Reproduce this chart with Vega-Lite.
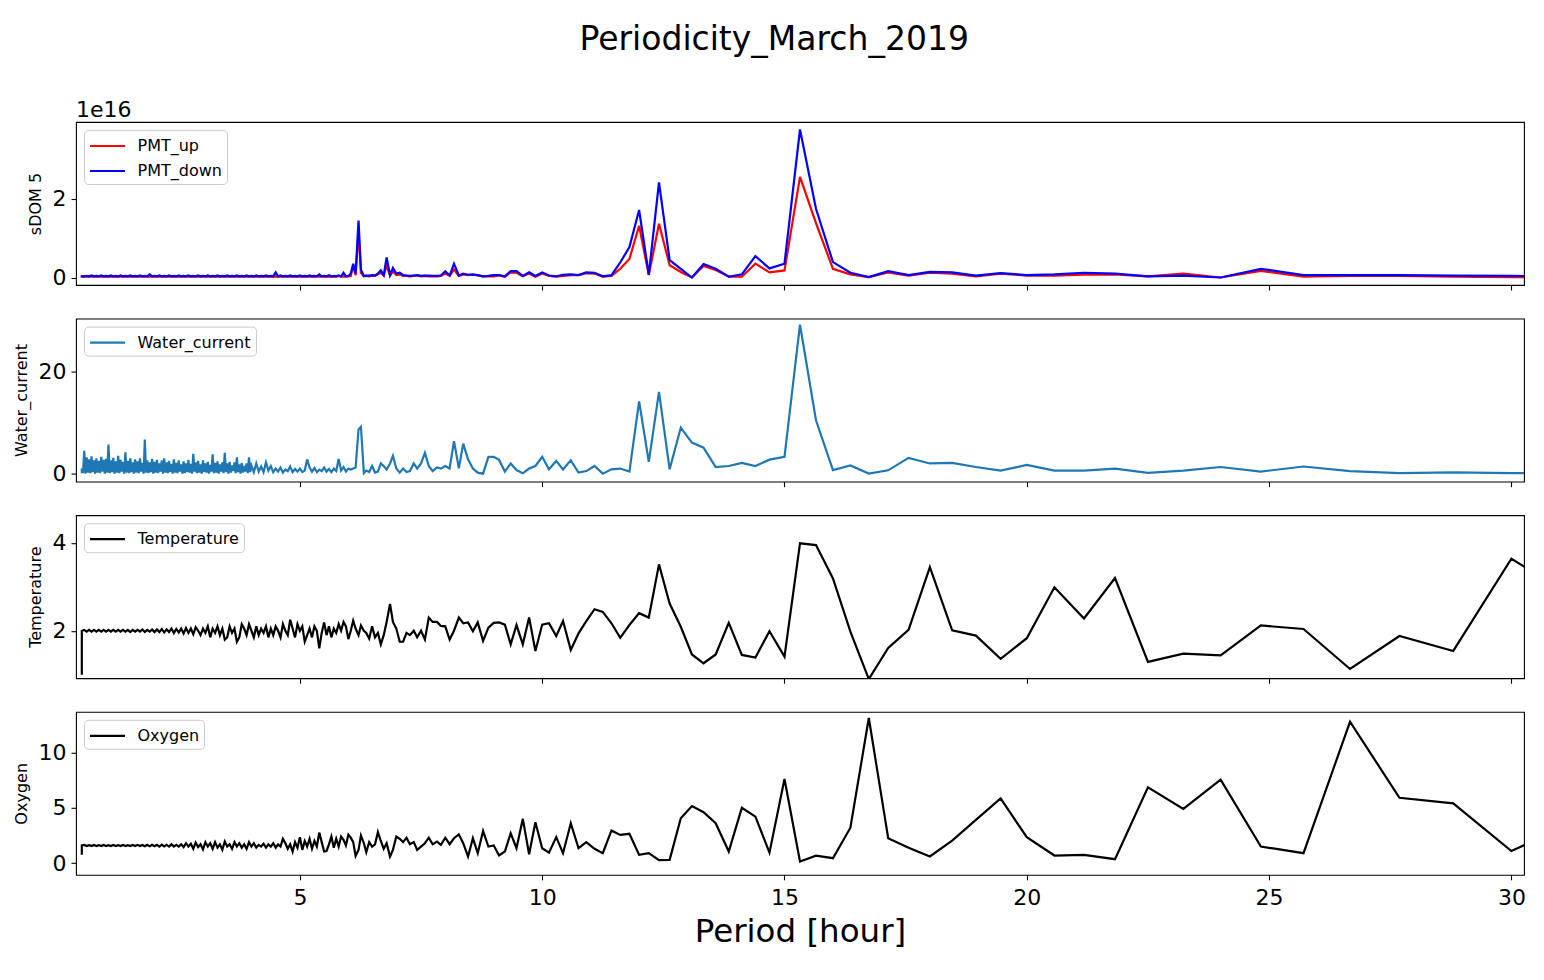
{
  "$schema": "https://vega.github.io/schema/vega-lite/v6.json",
  "padding": {"left": 12, "top": 24, "right": 19, "bottom": 5},
  "background": "white",
  "title": {"text": "Periodicity_March_2019", "fontSize": 33, "fontWeight": "normal", "anchor": "middle", "frame": "bounds", "offset": 41, "color": "black", "dx": 5},
  "config": {
    "font": "DejaVu Sans",
    "view": {"stroke": "black", "strokeWidth": 1.1},
    "axis": {"grid": false, "domain": false, "tickColor": "black", "tickSize": 5, "tickWidth": 1.1, "labelFontSize": 22, "labelColor": "black", "labelPadding": 5, "titleFontSize": 16, "titleFontWeight": "normal", "titleColor": "black", "titlePadding": 9},
    "axisX": {"labelPadding": 8, "titleFontSize": 32.5, "titlePadding": 7},
    "legend": {"orient": "top-left", "offset": 8, "padding": 4.5, "strokeColor": "#cccccc", "fillColor": "rgba(255,255,255,0.8)", "cornerRadius": 4, "labelFontSize": 16, "labelColor": "black", "symbolType": "M-1,0L2.5,0", "symbolSize": 400, "symbolStrokeWidth": 2.2, "labelOffset": 26, "rowPadding": 5, "title": null},
    "title": {"fontWeight": "normal", "color": "black"}
  },
  "datasets": {
    "periodogram": [
      {"p": 31.30, "PMT_up": 0.00, "PMT_down": 0.03, "Water_current": 0.1, "Temperature": 2.76, "Oxygen": 3.7},
      {"p": 30.00, "PMT_up": 0.01, "PMT_down": 0.04, "Water_current": 0.1, "Temperature": 3.64, "Oxygen": 1.1},
      {"p": 28.80, "PMT_up": 0.02, "PMT_down": 0.05, "Water_current": 0.25, "Temperature": 1.54, "Oxygen": 5.4},
      {"p": 27.69, "PMT_up": 0.04, "PMT_down": 0.06, "Water_current": 0.1, "Temperature": 1.88, "Oxygen": 5.9},
      {"p": 26.67, "PMT_up": 0.04, "PMT_down": 0.06, "Water_current": 0.5, "Temperature": 1.13, "Oxygen": 12.76},
      {"p": 25.71, "PMT_up": 0.02, "PMT_down": 0.06, "Water_current": 1.4, "Temperature": 2.04, "Oxygen": 0.9},
      {"p": 24.83, "PMT_up": 0.17, "PMT_down": 0.22, "Water_current": 0.4, "Temperature": 2.12, "Oxygen": 1.5},
      {"p": 24.00, "PMT_up": 0.00, "PMT_down": 0.00, "Water_current": 1.3, "Temperature": 1.44, "Oxygen": 7.53},
      {"p": 23.23, "PMT_up": 0.10, "PMT_down": 0.05, "Water_current": 0.6, "Temperature": 1.48, "Oxygen": 4.9},
      {"p": 22.50, "PMT_up": 0.03, "PMT_down": 0.03, "Water_current": 0.15, "Temperature": 1.29, "Oxygen": 6.85},
      {"p": 21.82, "PMT_up": 0.08, "PMT_down": 0.10, "Water_current": 1.0, "Temperature": 3.2, "Oxygen": 0.36},
      {"p": 21.18, "PMT_up": 0.07, "PMT_down": 0.12, "Water_current": 0.6, "Temperature": 2.28, "Oxygen": 0.75},
      {"p": 20.57, "PMT_up": 0.05, "PMT_down": 0.08, "Water_current": 0.6, "Temperature": 2.99, "Oxygen": 0.69},
      {"p": 20.00, "PMT_up": 0.05, "PMT_down": 0.06, "Water_current": 1.7, "Temperature": 1.83, "Oxygen": 2.34},
      {"p": 19.46, "PMT_up": 0.10, "PMT_down": 0.11, "Water_current": 0.6, "Temperature": 1.36, "Oxygen": 5.85},
      {"p": 18.95, "PMT_up": 0.03, "PMT_down": 0.05, "Water_current": 1.3, "Temperature": 1.89, "Oxygen": 3.9},
      {"p": 18.46, "PMT_up": 0.10, "PMT_down": 0.13, "Water_current": 2.1, "Temperature": 2.01, "Oxygen": 2.04},
      {"p": 18.00, "PMT_up": 0.12, "PMT_down": 0.14, "Water_current": 2.0, "Temperature": 3.45, "Oxygen": 0.6},
      {"p": 17.56, "PMT_up": 0.05, "PMT_down": 0.06, "Water_current": 3.1, "Temperature": 2.02, "Oxygen": 1.4},
      {"p": 17.14, "PMT_up": 0.13, "PMT_down": 0.16, "Water_current": 0.65, "Temperature": 1.61, "Oxygen": 2.25},
      {"p": 16.74, "PMT_up": 0.01, "PMT_down": 0.01, "Water_current": 0.0, "Temperature": 0.9, "Oxygen": 13.1},
      {"p": 16.36, "PMT_up": 0.08, "PMT_down": 0.12, "Water_current": 1.6, "Temperature": 1.98, "Oxygen": 3.2},
      {"p": 16.00, "PMT_up": 0.22, "PMT_down": 0.39, "Water_current": 0.7, "Temperature": 3.19, "Oxygen": 0.45},
      {"p": 15.65, "PMT_up": 1.38, "PMT_down": 1.74, "Water_current": 10.5, "Temperature": 3.95, "Oxygen": 0.68},
      {"p": 15.32, "PMT_up": 2.55, "PMT_down": 3.75, "Water_current": 29.3, "Temperature": 3.99, "Oxygen": 0.15},
      {"p": 15.00, "PMT_up": 0.18, "PMT_down": 0.35, "Water_current": 3.3, "Temperature": 1.41, "Oxygen": 7.6},
      {"p": 14.69, "PMT_up": 0.13, "PMT_down": 0.23, "Water_current": 2.75, "Temperature": 1.99, "Oxygen": 0.95},
      {"p": 14.40, "PMT_up": 0.35, "PMT_down": 0.54, "Water_current": 1.5, "Temperature": 1.39, "Oxygen": 4.2},
      {"p": 14.12, "PMT_up": 0.02, "PMT_down": 0.08, "Water_current": 2.1, "Temperature": 1.45, "Oxygen": 5.0},
      {"p": 13.85, "PMT_up": 0.02, "PMT_down": 0.02, "Water_current": 1.5, "Temperature": 2.18, "Oxygen": 1.05},
      {"p": 13.58, "PMT_up": 0.19, "PMT_down": 0.22, "Water_current": 1.3, "Temperature": 1.46, "Oxygen": 3.6},
      {"p": 13.33, "PMT_up": 0.29, "PMT_down": 0.34, "Water_current": 5.1, "Temperature": 1.26, "Oxygen": 4.6},
      {"p": 13.09, "PMT_up": 0.00, "PMT_down": 0.00, "Water_current": 6.1, "Temperature": 1.46, "Oxygen": 5.15},
      {"p": 12.86, "PMT_up": 0.14, "PMT_down": 0.22, "Water_current": 9.05, "Temperature": 2.09, "Oxygen": 4.05},
      {"p": 12.63, "PMT_up": 0.31, "PMT_down": 0.44, "Water_current": 0.85, "Temperature": 2.62, "Oxygen": 0.3},
      {"p": 12.41, "PMT_up": 1.36, "PMT_down": 2.41, "Water_current": 16.1, "Temperature": 3.51, "Oxygen": 0.27},
      {"p": 12.20, "PMT_up": 0.06, "PMT_down": 0.07, "Water_current": 2.3, "Temperature": 2.3, "Oxygen": 0.9},
      {"p": 12.00, "PMT_up": 1.31, "PMT_down": 1.71, "Water_current": 14.2, "Temperature": 2.4, "Oxygen": 0.75},
      {"p": 11.80, "PMT_up": 0.47, "PMT_down": 0.77, "Water_current": 0.4, "Temperature": 2.13, "Oxygen": 2.65},
      {"p": 11.61, "PMT_up": 0.22, "PMT_down": 0.38, "Water_current": 1.0, "Temperature": 1.84, "Oxygen": 2.55},
      {"p": 11.43, "PMT_up": 0.04, "PMT_down": 0.06, "Water_current": 0.85, "Temperature": 2.17, "Oxygen": 2.95},
      {"p": 11.25, "PMT_up": 0.02, "PMT_down": 0.03, "Water_current": 0.0, "Temperature": 2.43, "Oxygen": 0.9},
      {"p": 11.08, "PMT_up": 0.10, "PMT_down": 0.12, "Water_current": 1.5, "Temperature": 2.49, "Oxygen": 1.3},
      {"p": 10.91, "PMT_up": 0.11, "PMT_down": 0.13, "Water_current": 0.5, "Temperature": 2.22, "Oxygen": 1.9},
      {"p": 10.75, "PMT_up": 0.06, "PMT_down": 0.06, "Water_current": 0.2, "Temperature": 1.94, "Oxygen": 1.35},
      {"p": 10.59, "PMT_up": 0.06, "PMT_down": 0.08, "Water_current": 2.6, "Temperature": 1.56, "Oxygen": 3.6},
      {"p": 10.43, "PMT_up": 0.04, "PMT_down": 0.07, "Water_current": 0.8, "Temperature": 2.22, "Oxygen": 0.9},
      {"p": 10.29, "PMT_up": 0.02, "PMT_down": 0.03, "Water_current": 2.5, "Temperature": 1.88, "Oxygen": 2.35},
      {"p": 10.14, "PMT_up": 0.04, "PMT_down": 0.05, "Water_current": 0.85, "Temperature": 2.17, "Oxygen": 0.95},
      {"p": 10.00, "PMT_up": 0.10, "PMT_down": 0.13, "Water_current": 3.3, "Temperature": 2.14, "Oxygen": 1.35},
      {"p": 9.86, "PMT_up": 0.02, "PMT_down": 0.04, "Water_current": 1.5, "Temperature": 1.54, "Oxygen": 3.7},
      {"p": 9.73, "PMT_up": 0.10, "PMT_down": 0.13, "Water_current": 1.0, "Temperature": 2.3, "Oxygen": 0.8},
      {"p": 9.60, "PMT_up": 0.03, "PMT_down": 0.04, "Water_current": 0.06, "Temperature": 1.69, "Oxygen": 4.0},
      {"p": 9.47, "PMT_up": 0.12, "PMT_down": 0.16, "Water_current": 0.7, "Temperature": 2.13, "Oxygen": 1.35},
      {"p": 9.35, "PMT_up": 0.13, "PMT_down": 0.16, "Water_current": 2.0, "Temperature": 1.69, "Oxygen": 2.7},
      {"p": 9.23, "PMT_up": 0.02, "PMT_down": 0.03, "Water_current": 0.4, "Temperature": 2.14, "Oxygen": 1.05},
      {"p": 9.11, "PMT_up": 0.05, "PMT_down": 0.06, "Water_current": 2.7, "Temperature": 2.19, "Oxygen": 0.7},
      {"p": 9.00, "PMT_up": 0.03, "PMT_down": 0.06, "Water_current": 3.3, "Temperature": 2.18, "Oxygen": 1.6},
      {"p": 8.89, "PMT_up": 0.03, "PMT_down": 0.04, "Water_current": 3.3, "Temperature": 2.07, "Oxygen": 1.5},
      {"p": 8.78, "PMT_up": 0.03, "PMT_down": 0.03, "Water_current": 0.0, "Temperature": 1.77, "Oxygen": 2.9},
      {"p": 8.67, "PMT_up": 0.05, "PMT_down": 0.06, "Water_current": 0.2, "Temperature": 2.19, "Oxygen": 0.9},
      {"p": 8.57, "PMT_up": 0.07, "PMT_down": 0.08, "Water_current": 1.0, "Temperature": 1.99, "Oxygen": 2.25},
      {"p": 8.47, "PMT_up": 0.06, "PMT_down": 0.07, "Water_current": 2.8, "Temperature": 2.19, "Oxygen": 0.6},
      {"p": 8.37, "PMT_up": 0.08, "PMT_down": 0.10, "Water_current": 5.9, "Temperature": 2.17, "Oxygen": 1.8},
      {"p": 8.28, "PMT_up": 0.04, "PMT_down": 0.05, "Water_current": 1.04, "Temperature": 2.3, "Oxygen": 2.6},
      {"p": 8.18, "PMT_up": 0.20, "PMT_down": 0.35, "Water_current": 6.4, "Temperature": 2.0, "Oxygen": 2.25},
      {"p": 8.09, "PMT_up": 0.04, "PMT_down": 0.05, "Water_current": 1.0, "Temperature": 1.8, "Oxygen": 1.71},
      {"p": 8.00, "PMT_up": 0.10, "PMT_down": 0.16, "Water_current": 1.5, "Temperature": 2.1, "Oxygen": 2.3},
      {"p": 7.91, "PMT_up": 0.04, "PMT_down": 0.05, "Water_current": 0.98, "Temperature": 2.11, "Oxygen": 1.65},
      {"p": 7.83, "PMT_up": 0.03, "PMT_down": 0.04, "Water_current": 1.2, "Temperature": 2.2, "Oxygen": 1.95},
      {"p": 7.74, "PMT_up": 0.03, "PMT_down": 0.04, "Water_current": 0.5, "Temperature": 2.2, "Oxygen": 1.7},
      {"p": 7.66, "PMT_up": 0.03, "PMT_down": 0.05, "Water_current": 1.5, "Temperature": 2.3, "Oxygen": 2.3},
      {"p": 7.58, "PMT_up": 0.04, "PMT_down": 0.05, "Water_current": 4.1, "Temperature": 1.8, "Oxygen": 1.8},
      {"p": 7.50, "PMT_up": 0.03, "PMT_down": 0.04, "Water_current": 2.0, "Temperature": 2.0, "Oxygen": 1.5},
      {"p": 7.42, "PMT_up": 0.05, "PMT_down": 0.06, "Water_current": 1.0, "Temperature": 1.85, "Oxygen": 1.2},
      {"p": 7.35, "PMT_up": 0.04, "PMT_down": 0.05, "Water_current": 2.0, "Temperature": 2.0, "Oxygen": 1.9},
      {"p": 7.27, "PMT_up": 0.03, "PMT_down": 0.04, "Water_current": 0.5, "Temperature": 1.9, "Oxygen": 1.7},
      {"p": 7.20, "PMT_up": 0.04, "PMT_down": 0.05, "Water_current": 0.3, "Temperature": 1.95, "Oxygen": 2.3},
      {"p": 7.13, "PMT_up": 0.04, "PMT_down": 0.06, "Water_current": 1.0, "Temperature": 1.75, "Oxygen": 1.9},
      {"p": 7.06, "PMT_up": 0.08, "PMT_down": 0.12, "Water_current": 0.2, "Temperature": 1.75, "Oxygen": 2.2},
      {"p": 6.99, "PMT_up": 0.06, "PMT_down": 0.10, "Water_current": 1.0, "Temperature": 2.05, "Oxygen": 2.4},
      {"p": 6.92, "PMT_up": 0.15, "PMT_down": 0.24, "Water_current": 3.5, "Temperature": 2.2, "Oxygen": 1.2},
      {"p": 6.86, "PMT_up": 0.05, "PMT_down": 0.06, "Water_current": 2.0, "Temperature": 2.61, "Oxygen": 0.6},
      {"p": 6.79, "PMT_up": 0.30, "PMT_down": 0.51, "Water_current": 0.8, "Temperature": 2.2, "Oxygen": 1.8},
      {"p": 6.73, "PMT_up": 0.05, "PMT_down": 0.06, "Water_current": 1.5, "Temperature": 1.9, "Oxygen": 1.3},
      {"p": 6.67, "PMT_up": 0.12, "PMT_down": 0.18, "Water_current": 2.0, "Temperature": 1.69, "Oxygen": 2.0},
      {"p": 6.61, "PMT_up": 0.08, "PMT_down": 0.10, "Water_current": 0.4, "Temperature": 1.95, "Oxygen": 2.8},
      {"p": 6.55, "PMT_up": 0.04, "PMT_down": 0.05, "Water_current": 0.2, "Temperature": 1.85, "Oxygen": 1.7},
      {"p": 6.49, "PMT_up": 0.05, "PMT_down": 0.06, "Water_current": 1.5, "Temperature": 2.1, "Oxygen": 1.5},
      {"p": 6.43, "PMT_up": 0.03, "PMT_down": 0.05, "Water_current": 0.3, "Temperature": 1.82, "Oxygen": 1.9},
      {"p": 6.37, "PMT_up": 0.04, "PMT_down": 0.05, "Water_current": 0.6, "Temperature": 1.95, "Oxygen": 1.0},
      {"p": 6.32, "PMT_up": 0.03, "PMT_down": 0.04, "Water_current": 0.1, "Temperature": 2.0, "Oxygen": 1.8},
      {"p": 6.26, "PMT_up": 0.12, "PMT_down": 0.20, "Water_current": 9.2, "Temperature": 2.12, "Oxygen": 2.5},
      {"p": 6.21, "PMT_up": 1.15, "PMT_down": 1.44, "Water_current": 8.7, "Temperature": 1.9, "Oxygen": 1.2},
      {"p": 6.15, "PMT_up": 0.06, "PMT_down": 0.10, "Water_current": 1.2, "Temperature": 2.05, "Oxygen": 0.66},
      {"p": 6.10, "PMT_up": 0.30, "PMT_down": 0.35, "Water_current": 1.0, "Temperature": 2.23, "Oxygen": 1.9},
      {"p": 6.05, "PMT_up": 0.04, "PMT_down": 0.10, "Water_current": 0.8, "Temperature": 2.0, "Oxygen": 2.3},
      {"p": 6.00, "PMT_up": 0.03, "PMT_down": 0.04, "Water_current": 1.0, "Temperature": 1.81, "Oxygen": 2.57},
      {"p": 5.95, "PMT_up": 0.02, "PMT_down": 0.03, "Water_current": 0.4, "Temperature": 2.1, "Oxygen": 1.6},
      {"p": 5.90, "PMT_up": 0.03, "PMT_down": 0.12, "Water_current": 1.3, "Temperature": 2.2, "Oxygen": 2.1},
      {"p": 5.85, "PMT_up": 0.02, "PMT_down": 0.03, "Water_current": 0.6, "Temperature": 2.0, "Oxygen": 2.4},
      {"p": 5.80, "PMT_up": 0.04, "PMT_down": 0.05, "Water_current": 2.9, "Temperature": 2.15, "Oxygen": 1.5},
      {"p": 5.75, "PMT_up": 0.02, "PMT_down": 0.03, "Water_current": 0.5, "Temperature": 1.95, "Oxygen": 2.2},
      {"p": 5.70, "PMT_up": 0.03, "PMT_down": 0.04, "Water_current": 1.0, "Temperature": 2.05, "Oxygen": 1.4},
      {"p": 5.65, "PMT_up": 0.02, "PMT_down": 0.03, "Water_current": 0.3, "Temperature": 1.85, "Oxygen": 2.4},
      {"p": 5.60, "PMT_up": 0.03, "PMT_down": 0.06, "Water_current": 0.9, "Temperature": 2.1, "Oxygen": 1.7},
      {"p": 5.55, "PMT_up": 0.02, "PMT_down": 0.03, "Water_current": 0.4, "Temperature": 1.9, "Oxygen": 1.1},
      {"p": 5.50, "PMT_up": 0.03, "PMT_down": 0.04, "Water_current": 1.2, "Temperature": 2.19, "Oxygen": 1.05},
      {"p": 5.45, "PMT_up": 0.02, "PMT_down": 0.03, "Water_current": 0.5, "Temperature": 1.95, "Oxygen": 1.9},
      {"p": 5.40, "PMT_up": 0.03, "PMT_down": 0.08, "Water_current": 0.8, "Temperature": 1.6, "Oxygen": 2.76},
      {"p": 5.35, "PMT_up": 0.02, "PMT_down": 0.03, "Water_current": 0.3, "Temperature": 2.0, "Oxygen": 1.5},
      {"p": 5.30, "PMT_up": 0.03, "PMT_down": 0.04, "Water_current": 1.1, "Temperature": 2.1, "Oxygen": 2.0},
      {"p": 5.25, "PMT_up": 0.02, "PMT_down": 0.03, "Water_current": 0.4, "Temperature": 1.85, "Oxygen": 1.3},
      {"p": 5.20, "PMT_up": 0.03, "PMT_down": 0.05, "Water_current": 1.2, "Temperature": 2.05, "Oxygen": 2.2},
      {"p": 5.15, "PMT_up": 0.02, "PMT_down": 0.03, "Water_current": 2.8, "Temperature": 1.9, "Oxygen": 1.5},
      {"p": 5.10, "PMT_up": 0.03, "PMT_down": 0.04, "Water_current": 0.6, "Temperature": 1.75, "Oxygen": 2.0},
      {"p": 5.05, "PMT_up": 0.02, "PMT_down": 0.03, "Water_current": 0.3, "Temperature": 2.1, "Oxygen": 1.2},
      {"p": 5.00, "PMT_up": 0.03, "PMT_down": 0.05, "Water_current": 1.0, "Temperature": 2.0, "Oxygen": 2.35},
      {"p": 4.95, "PMT_up": 0.02, "PMT_down": 0.03, "Water_current": 0.4, "Temperature": 2.15, "Oxygen": 1.4},
      {"p": 4.90, "PMT_up": 0.03, "PMT_down": 0.04, "Water_current": 0.9, "Temperature": 1.85, "Oxygen": 1.9},
      {"p": 4.85, "PMT_up": 0.02, "PMT_down": 0.03, "Water_current": 0.3, "Temperature": 2.05, "Oxygen": 1.05},
      {"p": 4.80, "PMT_up": 0.03, "PMT_down": 0.05, "Water_current": 1.4, "Temperature": 2.25, "Oxygen": 1.7},
      {"p": 4.75, "PMT_up": 0.02, "PMT_down": 0.03, "Water_current": 0.5, "Temperature": 1.9, "Oxygen": 1.3},
      {"p": 4.70, "PMT_up": 0.03, "PMT_down": 0.04, "Water_current": 0.8, "Temperature": 2.0, "Oxygen": 1.8},
      {"p": 4.65, "PMT_up": 0.02, "PMT_down": 0.03, "Water_current": 0.2, "Temperature": 2.15, "Oxygen": 2.2},
      {"p": 4.60, "PMT_up": 0.03, "PMT_down": 0.05, "Water_current": 1.2, "Temperature": 1.85, "Oxygen": 1.5},
      {"p": 4.55, "PMT_up": 0.02, "PMT_down": 0.03, "Water_current": 0.4, "Temperature": 2.0, "Oxygen": 1.7},
      {"p": 4.50, "PMT_up": 0.03, "PMT_down": 0.13, "Water_current": 1.0, "Temperature": 2.1, "Oxygen": 1.4},
      {"p": 4.45, "PMT_up": 0.02, "PMT_down": 0.03, "Water_current": 0.3, "Temperature": 1.9, "Oxygen": 1.8},
      {"p": 4.40, "PMT_up": 0.03, "PMT_down": 0.04, "Water_current": 1.5, "Temperature": 2.05, "Oxygen": 1.5},
      {"p": 4.35, "PMT_up": 0.02, "PMT_down": 0.03, "Water_current": 0.6, "Temperature": 1.85, "Oxygen": 1.7},
      {"p": 4.30, "PMT_up": 0.03, "PMT_down": 0.05, "Water_current": 2.2, "Temperature": 2.1, "Oxygen": 1.4},
      {"p": 4.25, "PMT_up": 0.02, "PMT_down": 0.03, "Water_current": 0.3, "Temperature": 1.95, "Oxygen": 1.75},
      {"p": 4.20, "PMT_up": 0.03, "PMT_down": 0.04, "Water_current": 1.4, "Temperature": 2.05, "Oxygen": 1.5},
      {"p": 4.15, "PMT_up": 0.02, "PMT_down": 0.03, "Water_current": 0.4, "Temperature": 1.9, "Oxygen": 1.65},
      {"p": 4.10, "PMT_up": 0.03, "PMT_down": 0.05, "Water_current": 2.0, "Temperature": 2.1, "Oxygen": 1.4},
      {"p": 4.05, "PMT_up": 0.02, "PMT_down": 0.03, "Water_current": 0.3, "Temperature": 1.85, "Oxygen": 1.8},
      {"p": 4.00, "PMT_up": 0.03, "PMT_down": 0.04, "Water_current": 1.6, "Temperature": 2.0, "Oxygen": 1.5},
      {"p": 3.95, "PMT_up": 0.02, "PMT_down": 0.03, "Water_current": 3.2, "Temperature": 2.15, "Oxygen": 1.9},
      {"p": 3.90, "PMT_up": 0.03, "PMT_down": 0.05, "Water_current": 2.0, "Temperature": 1.9, "Oxygen": 1.3},
      {"p": 3.85, "PMT_up": 0.02, "PMT_down": 0.03, "Water_current": 1.5, "Temperature": 2.05, "Oxygen": 1.7},
      {"p": 3.80, "PMT_up": 0.03, "PMT_down": 0.04, "Water_current": 2.1, "Temperature": 2.15, "Oxygen": 1.4},
      {"p": 3.75, "PMT_up": 0.02, "PMT_down": 0.03, "Water_current": 1.8, "Temperature": 1.85, "Oxygen": 1.8},
      {"p": 3.70, "PMT_up": 0.03, "PMT_down": 0.05, "Water_current": 3.2, "Temperature": 1.75, "Oxygen": 1.5},
      {"p": 3.65, "PMT_up": 0.02, "PMT_down": 0.03, "Water_current": 2.2, "Temperature": 2.05, "Oxygen": 1.9},
      {"p": 3.60, "PMT_up": 0.03, "PMT_down": 0.04, "Water_current": 1.6, "Temperature": 1.95, "Oxygen": 1.3},
      {"p": 3.55, "PMT_up": 0.02, "PMT_down": 0.03, "Water_current": 2.3, "Temperature": 2.1, "Oxygen": 1.7},
      {"p": 3.50, "PMT_up": 0.03, "PMT_down": 0.05, "Water_current": 2.0, "Temperature": 1.85, "Oxygen": 1.5},
      {"p": 3.45, "PMT_up": 0.02, "PMT_down": 0.03, "Water_current": 4.1, "Temperature": 1.8, "Oxygen": 1.95},
      {"p": 3.40, "PMT_up": 0.03, "PMT_down": 0.04, "Water_current": 2.2, "Temperature": 2.05, "Oxygen": 1.2},
      {"p": 3.35, "PMT_up": 0.02, "PMT_down": 0.03, "Water_current": 1.8, "Temperature": 1.9, "Oxygen": 1.7},
      {"p": 3.30, "PMT_up": 0.03, "PMT_down": 0.05, "Water_current": 2.4, "Temperature": 2.1, "Oxygen": 1.4},
      {"p": 3.25, "PMT_up": 0.02, "PMT_down": 0.03, "Water_current": 2.1, "Temperature": 1.95, "Oxygen": 1.9},
      {"p": 3.20, "PMT_up": 0.03, "PMT_down": 0.04, "Water_current": 3.8, "Temperature": 2.05, "Oxygen": 1.3},
      {"p": 3.15, "PMT_up": 0.02, "PMT_down": 0.03, "Water_current": 1.7, "Temperature": 1.85, "Oxygen": 1.8},
      {"p": 3.10, "PMT_up": 0.03, "PMT_down": 0.05, "Water_current": 2.3, "Temperature": 2.1, "Oxygen": 1.5},
      {"p": 3.05, "PMT_up": 0.02, "PMT_down": 0.03, "Water_current": 2.0, "Temperature": 1.95, "Oxygen": 1.9},
      {"p": 3.00, "PMT_up": 0.03, "PMT_down": 0.04, "Water_current": 2.6, "Temperature": 2.05, "Oxygen": 1.25},
      {"p": 2.95, "PMT_up": 0.02, "PMT_down": 0.03, "Water_current": 1.8, "Temperature": 1.9, "Oxygen": 1.7},
      {"p": 2.90, "PMT_up": 0.03, "PMT_down": 0.05, "Water_current": 2.5, "Temperature": 2.0, "Oxygen": 1.45},
      {"p": 2.85, "PMT_up": 0.02, "PMT_down": 0.03, "Water_current": 2.2, "Temperature": 2.08, "Oxygen": 1.85},
      {"p": 2.80, "PMT_up": 0.03, "PMT_down": 0.04, "Water_current": 3.9, "Temperature": 1.92, "Oxygen": 1.3},
      {"p": 2.75, "PMT_up": 0.02, "PMT_down": 0.03, "Water_current": 1.9, "Temperature": 2.05, "Oxygen": 1.75},
      {"p": 2.70, "PMT_up": 0.03, "PMT_down": 0.05, "Water_current": 2.7, "Temperature": 1.95, "Oxygen": 1.5},
      {"p": 2.65, "PMT_up": 0.02, "PMT_down": 0.03, "Water_current": 2.0, "Temperature": 2.06, "Oxygen": 1.8},
      {"p": 2.60, "PMT_up": 0.03, "PMT_down": 0.04, "Water_current": 2.4, "Temperature": 1.94, "Oxygen": 1.45},
      {"p": 2.55, "PMT_up": 0.02, "PMT_down": 0.03, "Water_current": 1.8, "Temperature": 2.05, "Oxygen": 1.7},
      {"p": 2.50, "PMT_up": 0.03, "PMT_down": 0.05, "Water_current": 2.6, "Temperature": 1.96, "Oxygen": 1.5},
      {"p": 2.45, "PMT_up": 0.02, "PMT_down": 0.03, "Water_current": 2.1, "Temperature": 2.04, "Oxygen": 1.65},
      {"p": 2.40, "PMT_up": 0.03, "PMT_down": 0.04, "Water_current": 2.8, "Temperature": 1.95, "Oxygen": 1.5},
      {"p": 2.35, "PMT_up": 0.02, "PMT_down": 0.03, "Water_current": 1.9, "Temperature": 2.05, "Oxygen": 1.7},
      {"p": 2.30, "PMT_up": 0.03, "PMT_down": 0.05, "Water_current": 2.5, "Temperature": 1.97, "Oxygen": 1.5},
      {"p": 2.25, "PMT_up": 0.02, "PMT_down": 0.03, "Water_current": 2.2, "Temperature": 2.03, "Oxygen": 1.65},
      {"p": 2.20, "PMT_up": 0.03, "PMT_down": 0.04, "Water_current": 3.0, "Temperature": 1.96, "Oxygen": 1.52},
      {"p": 2.15, "PMT_up": 0.02, "PMT_down": 0.03, "Water_current": 2.6, "Temperature": 2.04, "Oxygen": 1.68},
      {"p": 2.10, "PMT_up": 0.03, "PMT_down": 0.05, "Water_current": 2.0, "Temperature": 1.97, "Oxygen": 1.5},
      {"p": 2.05, "PMT_up": 0.02, "PMT_down": 0.03, "Water_current": 2.7, "Temperature": 2.03, "Oxygen": 1.66},
      {"p": 2.00, "PMT_up": 0.03, "PMT_down": 0.04, "Water_current": 2.3, "Temperature": 1.97, "Oxygen": 1.53},
      {"p": 1.95, "PMT_up": 0.02, "PMT_down": 0.03, "Water_current": 2.9, "Temperature": 2.03, "Oxygen": 1.65},
      {"p": 1.90, "PMT_up": 0.03, "PMT_down": 0.08, "Water_current": 2.2, "Temperature": 1.98, "Oxygen": 1.52},
      {"p": 1.85, "PMT_up": 0.02, "PMT_down": 0.03, "Water_current": 2.6, "Temperature": 2.02, "Oxygen": 1.66},
      {"p": 1.80, "PMT_up": 0.03, "PMT_down": 0.04, "Water_current": 6.7, "Temperature": 1.97, "Oxygen": 1.53},
      {"p": 1.75, "PMT_up": 0.02, "PMT_down": 0.03, "Water_current": 2.1, "Temperature": 2.03, "Oxygen": 1.64},
      {"p": 1.70, "PMT_up": 0.03, "PMT_down": 0.05, "Water_current": 3.0, "Temperature": 1.98, "Oxygen": 1.54},
      {"p": 1.65, "PMT_up": 0.02, "PMT_down": 0.03, "Water_current": 2.4, "Temperature": 2.02, "Oxygen": 1.65},
      {"p": 1.60, "PMT_up": 0.03, "PMT_down": 0.04, "Water_current": 2.8, "Temperature": 1.98, "Oxygen": 1.54},
      {"p": 1.55, "PMT_up": 0.02, "PMT_down": 0.03, "Water_current": 2.2, "Temperature": 2.02, "Oxygen": 1.64},
      {"p": 1.50, "PMT_up": 0.03, "PMT_down": 0.05, "Water_current": 3.0, "Temperature": 1.97, "Oxygen": 1.55},
      {"p": 1.45, "PMT_up": 0.02, "PMT_down": 0.03, "Water_current": 2.5, "Temperature": 2.02, "Oxygen": 1.63},
      {"p": 1.40, "PMT_up": 0.03, "PMT_down": 0.04, "Water_current": 4.2, "Temperature": 1.98, "Oxygen": 1.55},
      {"p": 1.35, "PMT_up": 0.02, "PMT_down": 0.03, "Water_current": 2.3, "Temperature": 2.02, "Oxygen": 1.64},
      {"p": 1.30, "PMT_up": 0.03, "PMT_down": 0.05, "Water_current": 2.7, "Temperature": 1.98, "Oxygen": 1.54},
      {"p": 1.25, "PMT_up": 0.02, "PMT_down": 0.03, "Water_current": 3.5, "Temperature": 2.02, "Oxygen": 1.63},
      {"p": 1.20, "PMT_up": 0.03, "PMT_down": 0.04, "Water_current": 2.4, "Temperature": 1.98, "Oxygen": 1.55},
      {"p": 1.15, "PMT_up": 0.02, "PMT_down": 0.03, "Water_current": 3.1, "Temperature": 2.02, "Oxygen": 1.64},
      {"p": 1.10, "PMT_up": 0.03, "PMT_down": 0.05, "Water_current": 2.6, "Temperature": 1.98, "Oxygen": 1.55},
      {"p": 1.05, "PMT_up": 0.02, "PMT_down": 0.03, "Water_current": 5.7, "Temperature": 2.02, "Oxygen": 1.63},
      {"p": 1.00, "PMT_up": 0.03, "PMT_down": 0.04, "Water_current": 2.9, "Temperature": 1.98, "Oxygen": 1.55},
      {"p": 0.95, "PMT_up": 0.02, "PMT_down": 0.03, "Water_current": 2.7, "Temperature": 2.02, "Oxygen": 1.64},
      {"p": 0.90, "PMT_up": 0.03, "PMT_down": 0.05, "Water_current": 3.3, "Temperature": 1.98, "Oxygen": 1.54},
      {"p": 0.85, "PMT_up": 0.02, "PMT_down": 0.03, "Water_current": 2.5, "Temperature": 2.02, "Oxygen": 1.63},
      {"p": 0.80, "PMT_up": 0.03, "PMT_down": 0.04, "Water_current": 3.0, "Temperature": 1.98, "Oxygen": 1.55},
      {"p": 0.75, "PMT_up": 0.02, "PMT_down": 0.03, "Water_current": 2.6, "Temperature": 2.02, "Oxygen": 1.64},
      {"p": 0.70, "PMT_up": 0.03, "PMT_down": 0.05, "Water_current": 3.4, "Temperature": 1.98, "Oxygen": 1.54},
      {"p": 0.65, "PMT_up": 0.02, "PMT_down": 0.03, "Water_current": 2.8, "Temperature": 2.02, "Oxygen": 1.63},
      {"p": 0.60, "PMT_up": 0.03, "PMT_down": 0.04, "Water_current": 3.2, "Temperature": 1.98, "Oxygen": 1.55},
      {"p": 0.55, "PMT_up": 0.02, "PMT_down": 0.03, "Water_current": 4.5, "Temperature": 2.02, "Oxygen": 1.64},
      {"p": 0.5004, "PMT_up": 0.02, "PMT_down": 0.03, "Water_current": 0.3, "Temperature": 2.0, "Oxygen": 1.6},
      {"p": 0.50, "PMT_up": 0.00, "PMT_down": 0.00, "Water_current": 1.0, "Temperature": 1.0, "Oxygen": 0.75},
      {"p": 3.975, "Water_current": 0.3}, {"p": 3.925, "Water_current": 0.1}, {"p": 3.875, "Water_current": 0.4},
      {"p": 3.825, "Water_current": 0.2}, {"p": 3.775, "Water_current": 0.0}, {"p": 3.725, "Water_current": 0.3},
      {"p": 3.675, "Water_current": 0.1}, {"p": 3.625, "Water_current": 0.5}, {"p": 3.575, "Water_current": 0.2},
      {"p": 3.525, "Water_current": 0.0}, {"p": 3.475, "Water_current": 0.3}, {"p": 3.425, "Water_current": 0.1},
      {"p": 3.375, "Water_current": 0.4}, {"p": 3.325, "Water_current": 0.0}, {"p": 3.275, "Water_current": 0.2},
      {"p": 3.225, "Water_current": 0.1}, {"p": 3.175, "Water_current": 0.4}, {"p": 3.125, "Water_current": 0.0},
      {"p": 3.075, "Water_current": 0.2}, {"p": 3.025, "Water_current": 0.3}, {"p": 2.975, "Water_current": 0.0},
      {"p": 2.925, "Water_current": 0.2}, {"p": 2.875, "Water_current": 0.1}, {"p": 2.825, "Water_current": 0.4},
      {"p": 2.775, "Water_current": 0.0}, {"p": 2.725, "Water_current": 0.2}, {"p": 2.675, "Water_current": 0.3},
      {"p": 2.625, "Water_current": 0.1}, {"p": 2.575, "Water_current": 0.0}, {"p": 2.525, "Water_current": 0.4},
      {"p": 2.475, "Water_current": 0.1}, {"p": 2.425, "Water_current": 0.2}, {"p": 2.375, "Water_current": 0.0},
      {"p": 2.325, "Water_current": 0.3}, {"p": 2.275, "Water_current": 0.1}, {"p": 2.225, "Water_current": 0.2},
      {"p": 2.175, "Water_current": 0.0}, {"p": 2.125, "Water_current": 0.4}, {"p": 2.075, "Water_current": 0.1},
      {"p": 2.025, "Water_current": 0.2}, {"p": 1.975, "Water_current": 0.0}, {"p": 1.925, "Water_current": 0.3},
      {"p": 1.875, "Water_current": 0.1}, {"p": 1.825, "Water_current": 0.2}, {"p": 1.775, "Water_current": 0.0},
      {"p": 1.725, "Water_current": 0.4}, {"p": 1.675, "Water_current": 0.1}, {"p": 1.625, "Water_current": 0.2},
      {"p": 1.575, "Water_current": 0.0}, {"p": 1.525, "Water_current": 0.3}, {"p": 1.475, "Water_current": 0.1},
      {"p": 1.425, "Water_current": 0.2}, {"p": 1.375, "Water_current": 0.0}, {"p": 1.325, "Water_current": 0.4},
      {"p": 1.275, "Water_current": 0.1}, {"p": 1.225, "Water_current": 0.2}, {"p": 1.175, "Water_current": 0.0},
      {"p": 1.125, "Water_current": 0.3}, {"p": 1.075, "Water_current": 0.1}, {"p": 1.025, "Water_current": 0.2},
      {"p": 0.975, "Water_current": 0.0}, {"p": 0.925, "Water_current": 0.4}, {"p": 0.875, "Water_current": 0.1},
      {"p": 0.825, "Water_current": 0.2}, {"p": 0.775, "Water_current": 0.0}, {"p": 0.725, "Water_current": 0.3},
      {"p": 0.675, "Water_current": 0.1}, {"p": 0.625, "Water_current": 0.2}, {"p": 0.575, "Water_current": 0.0},
      {"p": 0.525, "Water_current": 0.3}
    ]
  },
  "vconcat": [
    {
      "width": 1448,
      "height": 163,
      "title": {"text": "1e16", "anchor": "start", "frame": "group", "fontSize": 22, "baseline": "alphabetic", "offset": -17},
      "data": {"name": "periodogram"},
      "transform": [
        {"fold": ["PMT_up", "PMT_down"], "as": ["series", "value"]},
        {"filter": "isValid(datum.value)"}
      ],
      "mark": {"type": "line", "strokeWidth": 2.2, "clip": true},
      "encoding": {
        "x": {"field": "p", "type": "quantitative", "scale": {"domain": [0.38, 30.26], "nice": false, "zero": false}, "axis": {"values": [5, 10, 15, 20, 25, 30], "labels": false, "title": null}},
        "y": {"field": "value", "type": "quantitative", "scale": {"domain": [-0.19, 3.94], "nice": false, "zero": false}, "axis": {"values": [0, 2], "title": "sDOM 5"}},
        "color": {"field": "series", "type": "nominal", "scale": {"domain": ["PMT_up", "PMT_down"], "range": ["#ff0000", "#0000ff"]}, "legend": {"title": null}}
      }
    },
    {
      "width": 1448,
      "height": 163,
      "data": {"name": "periodogram"},
      "transform": [{"filter": "isValid(datum.Water_current)"}],
      "mark": {"type": "line", "strokeWidth": 2.2, "clip": true},
      "encoding": {
        "x": {"field": "p", "type": "quantitative", "scale": {"domain": [0.38, 30.26], "nice": false, "zero": false}, "axis": {"values": [5, 10, 15, 20, 25, 30], "labels": false, "title": null}},
        "y": {"field": "Water_current", "type": "quantitative", "scale": {"domain": [-1.57, 30.5], "nice": false, "zero": false}, "axis": {"values": [0, 20], "title": "Water_current"}},
        "color": {"datum": "Water_current", "scale": {"range": ["#1f77b4"]}, "legend": {"title": null}}
      }
    },
    {
      "width": 1448,
      "height": 163,
      "data": {"name": "periodogram"},
      "transform": [{"filter": "isValid(datum.Temperature)"}],
      "mark": {"type": "line", "strokeWidth": 2.2, "clip": true},
      "encoding": {
        "x": {"field": "p", "type": "quantitative", "scale": {"domain": [0.38, 30.26], "nice": false, "zero": false}, "axis": {"values": [5, 10, 15, 20, 25, 30], "labels": false, "title": null}},
        "y": {"field": "Temperature", "type": "quantitative", "scale": {"domain": [0.92, 4.63], "nice": false, "zero": false}, "axis": {"values": [2, 4], "title": "Temperature"}},
        "color": {"datum": "Temperature", "scale": {"range": ["#000000"]}, "legend": {"title": null}}
      }
    },
    {
      "width": 1448,
      "height": 163,
      "data": {"name": "periodogram"},
      "transform": [{"filter": "isValid(datum.Oxygen)"}],
      "mark": {"type": "line", "strokeWidth": 2.2, "clip": true},
      "encoding": {
        "x": {"field": "p", "type": "quantitative", "scale": {"domain": [0.38, 30.26], "nice": false, "zero": false}, "axis": {"values": [5, 10, 15, 20, 25, 30], "title": "Period [hour]"}},
        "y": {"field": "Oxygen", "type": "quantitative", "scale": {"domain": [-1.05, 13.66], "nice": false, "zero": false}, "axis": {"values": [0, 5, 10], "title": "Oxygen"}},
        "color": {"datum": "Oxygen", "scale": {"range": ["#000000"]}, "legend": {"title": null}}
      }
    }
  ],
  "spacing": 25.6,
  "resolve": {"scale": {"y": "independent", "color": "independent"}, "legend": {"color": "independent"}}
}
